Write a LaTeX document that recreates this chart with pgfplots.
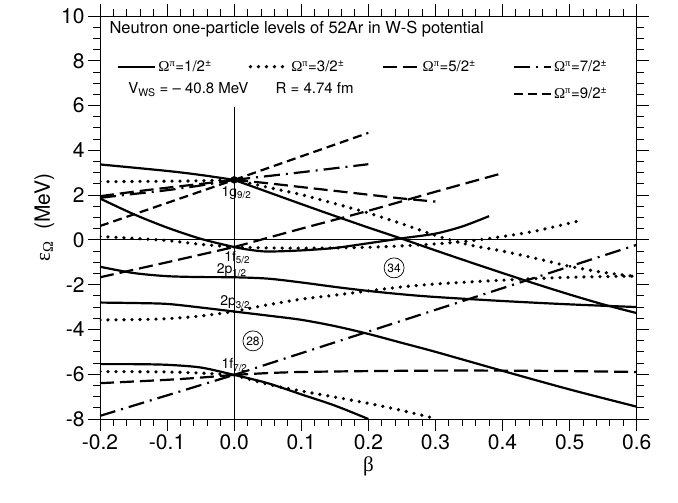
\documentclass[border=0pt]{standalone}
\usepackage{fontspec}
\setmainfont{TeX Gyre Heros}
\newfontfamily\gr{Liberation Serif}
\usepackage{pgfplots}
\pgfplotsset{compat=1.18}
\tikzset{
  sol/.style={black, line width=2.2pt, solid},
  dotl/.style={black, line width=3.6pt, line cap=round, dash pattern=on 0pt off 8pt},
  ldash/.style={black, line width=2.2pt, dash pattern=on 14pt off 6pt},
  ddot/.style={black, line width=2.2pt, dash pattern=on 16pt off 6pt on 2pt off 6pt},
  sdash/.style={black, line width=2.2pt, dash pattern=on 9pt off 5pt},
}
\begin{document}
\begin{tikzpicture}[x=1pt,y=1pt]
\path[use as bounding box] (-100,-84) rectangle (578,419);
\begin{axis}[
  scale only axis, width=536.7pt, height=403pt,
  at={(0,0)}, anchor=south west,
  xmin=-0.2, xmax=0.6, ymin=-8, ymax=10,
  xtick={-0.2,-0.1,0,0.1,0.2,0.3,0.4,0.5,0.6},
  xticklabels={-0.2,-0.1,0.0,0.1,0.2,0.3,0.4,0.5,0.6},
  minor x tick num=4,
  ytick={-8,-6,-4,-2,0,2,4,6,8,10},
  yticklabels={-8,-6,-4,-2,0,2,4,6,8,10},
  minor y tick num=3,
  tick align=outside,
  major tick length=12pt, minor tick length=7pt,
  every tick/.style={black, line width=0.9pt},
  axis line style={line width=0.9pt},
  tick label style={font=\fontsize{21}{24}\selectfont},
  xlabel={{\gr β}},
  ylabel={{\gr ε}\textsubscript{\gr Ω}\ \ (MeV)},
  label style={font=\fontsize{21}{24}\selectfont},
  legend columns=4,
  legend cell align=left,
  legend image code/.code={\draw[#1] (0pt,0pt) -- (37pt,0pt);},
  legend style={draw=none, fill=none, at={(axis cs:-0.179,8.2)}, anchor=north west,
    font=\fontsize{15}{17}\selectfont, row sep=11pt,
    /tikz/every even column/.append style={column sep=35pt}},
]
\addlegendimage{sol}\addlegendentry{{\gr Ω}\textsuperscript{\gr π}=1/2\textsuperscript{±}}
\addlegendimage{dotl}\addlegendentry{{\gr Ω}\textsuperscript{\gr π}=3/2\textsuperscript{±}}
\addlegendimage{ldash}\addlegendentry{{\gr Ω}\textsuperscript{\gr π}=5/2\textsuperscript{±}}
\addlegendimage{ddot}\addlegendentry{{\gr Ω}\textsuperscript{\gr π}=7/2\textsuperscript{±}}
\addlegendimage{empty legend}\addlegendentry{}
\addlegendimage{empty legend}\addlegendentry{}
\addlegendimage{empty legend}\addlegendentry{}
\addlegendimage{sdash}\addlegendentry{{\gr Ω}\textsuperscript{\gr π}=9/2\textsuperscript{±}}

% reference lines
\addplot[forget plot, black, line width=0.9pt] coordinates {(-0.2,0) (0.6,0)};
\addplot[forget plot, black, line width=0.9pt] coordinates {(0,-8) (0,5.95)};

% Omega = 1/2 (solid)
\addplot[forget plot, sol, smooth] coordinates {(-0.2,3.37) (-0.1,3.08) (-0.05,2.9) (0,2.68)};
\addplot[forget plot, sol, smooth] coordinates {(0,2.68) (0.05,2.14) (0.1,1.6) (0.15,1.07) (0.2,0.55) (0.25,0.05) (0.3,-0.47) (0.35,-0.98) (0.4,-1.48) (0.45,-1.97) (0.5,-2.44) (0.55,-2.88) (0.6,-3.27)};
\addplot[forget plot, sol, smooth] coordinates {(-0.2,1.85) (-0.15,1.15) (-0.1,0.55) (-0.05,0.05) (0,-0.32) (0.025,-0.45) (0.05,-0.52) (0.1,-0.47) (0.15,-0.36) (0.2,-0.15) (0.25,0.07) (0.3,0.28) (0.34,0.6) (0.38,1.06)};
\addplot[forget plot, sol, smooth] coordinates {(-0.2,-1.2) (-0.15,-1.48) (-0.1,-1.62) (-0.05,-1.66) (0,-1.67) (0.05,-1.73) (0.1,-1.9) (0.15,-2.1) (0.2,-2.28) (0.25,-2.43) (0.3,-2.55) (0.4,-2.73) (0.5,-2.88) (0.6,-3.0)};
\addplot[forget plot, sol, smooth] coordinates {(-0.2,-2.8) (-0.15,-2.82) (-0.1,-2.86) (-0.05,-3.02) (0,-3.2) (0.05,-3.38) (0.1,-3.57) (0.15,-3.85) (0.2,-4.2) (0.25,-4.6) (0.3,-5.0) (0.4,-5.85) (0.5,-6.68) (0.6,-7.45)};
\addplot[forget plot, sol, smooth] coordinates {(-0.2,-5.55) (-0.15,-5.55) (-0.1,-5.58) (-0.05,-5.7) (0,-6.03) (0.05,-6.4) (0.1,-6.9) (0.15,-7.4) (0.2,-8.0)};

% Omega = 3/2 (dotted)
\addplot[forget plot, dotl, smooth] coordinates {(-0.2,2.6) (-0.1,2.62) (-0.05,2.64) (0,2.68)};
\addplot[forget plot, dotl, smooth] coordinates {(0,2.68) (0.05,2.35) (0.1,2.02) (0.15,1.62) (0.2,1.2) (0.25,0.72) (0.3,0.2) (0.35,-0.22) (0.4,-0.5) (0.45,-0.83) (0.5,-1.18) (0.55,-1.45) (0.6,-1.64)};
\addplot[forget plot, dotl, smooth] coordinates {(-0.2,0.15) (-0.15,0.07) (-0.1,-0.03) (-0.05,-0.2) (0,-0.32)};
\addplot[forget plot, dotl, smooth] coordinates {(0,-0.32) (0.05,-0.36) (0.1,-0.37) (0.15,-0.36) (0.2,-0.33) (0.25,-0.27) (0.3,-0.18) (0.35,-0.05) (0.4,0.15) (0.45,0.4) (0.51,0.82)};
\addplot[forget plot, dotl, smooth] coordinates {(-0.2,-3.58) (-0.15,-3.56) (-0.1,-3.52) (-0.05,-3.4) (0,-3.2)};
\addplot[forget plot, dotl, smooth] coordinates {(0,-3.2) (0.05,-2.9) (0.1,-2.65) (0.15,-2.47) (0.2,-2.28) (0.25,-2.1) (0.3,-1.97) (0.35,-1.88) (0.4,-1.8) (0.5,-1.67) (0.6,-1.62)};
\addplot[forget plot, dotl, smooth] coordinates {(-0.2,-5.88) (-0.1,-5.9) (-0.05,-5.95) (0,-6.03)};
\addplot[forget plot, dotl, smooth] coordinates {(0,-6.03) (0.05,-6.45) (0.1,-6.75) (0.15,-7.02) (0.2,-7.3) (0.25,-7.62) (0.3,-7.98)};

% Omega = 5/2 (long dash)
\addplot[forget plot, ldash, smooth] coordinates {(-0.2,1.95) (-0.15,2.15) (-0.1,2.33) (-0.05,2.5) (0,2.68)};
\addplot[forget plot, ldash, smooth] coordinates {(0,2.68) (0.05,2.53) (0.1,2.36) (0.15,2.19) (0.2,2.02) (0.25,1.85) (0.3,1.71)};
\addplot[forget plot, ldash, smooth] coordinates {(-0.2,-1.67) (-0.1,-1.0) (-0.05,-0.66) (0,-0.32)};
\addplot[forget plot, ldash, smooth] coordinates {(0,-0.32) (0.1,0.5) (0.2,1.3) (0.3,2.15) (0.4,2.98)};
\addplot[forget plot, ldash, smooth] coordinates {(-0.2,-6.4) (-0.1,-6.25) (-0.05,-6.15) (0,-6.03)};
\addplot[forget plot, ldash, smooth] coordinates {(0,-6.03) (0.05,-5.95) (0.1,-5.9) (0.2,-5.86) (0.3,-5.84) (0.4,-5.84) (0.5,-5.86) (0.6,-5.9)};

% Omega = 7/2 (dash-dot)
\addplot[forget plot, ddot, smooth] coordinates {(-0.2,1.88) (-0.15,2.05) (-0.1,2.22) (-0.05,2.43) (0,2.68)};
\addplot[forget plot, ddot] coordinates {(0,2.68) (0.1,3.02) (0.2,3.38)};
\addplot[forget plot, ddot] coordinates {(-0.2,-7.86) (0,-6.03)};
\addplot[forget plot, ddot] coordinates {(0,-6.03) (0.6,-0.22)};

% Omega = 9/2 (short dash)
\addplot[forget plot, sdash] coordinates {(-0.2,0.62) (0,2.68)};
\addplot[forget plot, sdash] coordinates {(0,2.68) (0.2,4.78)};

% degenerate point
\addplot[forget plot, only marks, mark=*, mark size=3.5pt, black] coordinates {(0,2.68)};

% texts
\node[anchor=base west, font=\fontsize{16.5}{18}\selectfont] at (axis cs:-0.191,9.2) {Neutron one-particle levels of 52Ar in W-S potential};
\node[anchor=base west, font=\fontsize{15}{18}\selectfont] at (axis cs:-0.163,6.55) {V\textsubscript{WS} = – 40.8 MeV};
\node[anchor=base west, font=\fontsize{15}{18}\selectfont] at (axis cs:0.0566,6.55) {R = 4.74 fm};

\node[anchor=base west, font=\fontsize{14}{16}\selectfont, inner sep=0pt] at (axis cs:-0.019,1.96) {1g\textsubscript{9/2}};
\node[anchor=base west, font=\fontsize{14}{16}\selectfont, inner sep=0pt] at (axis cs:-0.015,-0.97) {1f\textsubscript{5/2}};
\node[anchor=base west, font=\fontsize{14}{16}\selectfont, inner sep=0pt] at (axis cs:-0.026,-1.52) {2p\textsubscript{1/2}};
\node[anchor=base west, font=\fontsize{14}{16}\selectfont, inner sep=0pt] at (axis cs:-0.021,-2.95) {2p\textsubscript{3/2}};
\node[anchor=base west, font=\fontsize{14}{16}\selectfont, inner sep=0pt] at (axis cs:-0.019,-5.76) {1f\textsubscript{7/2}};

\node[circle, draw, line width=0.7pt, inner sep=1.5pt, font=\fontsize{12}{14}\selectfont] at (axis cs:0.028,-4.51) {28};
\node[circle, draw, line width=0.7pt, inner sep=1.5pt, font=\fontsize{12}{14}\selectfont] at (axis cs:0.2384,-1.25) {34};
\end{axis}
\end{tikzpicture}
\end{document}
